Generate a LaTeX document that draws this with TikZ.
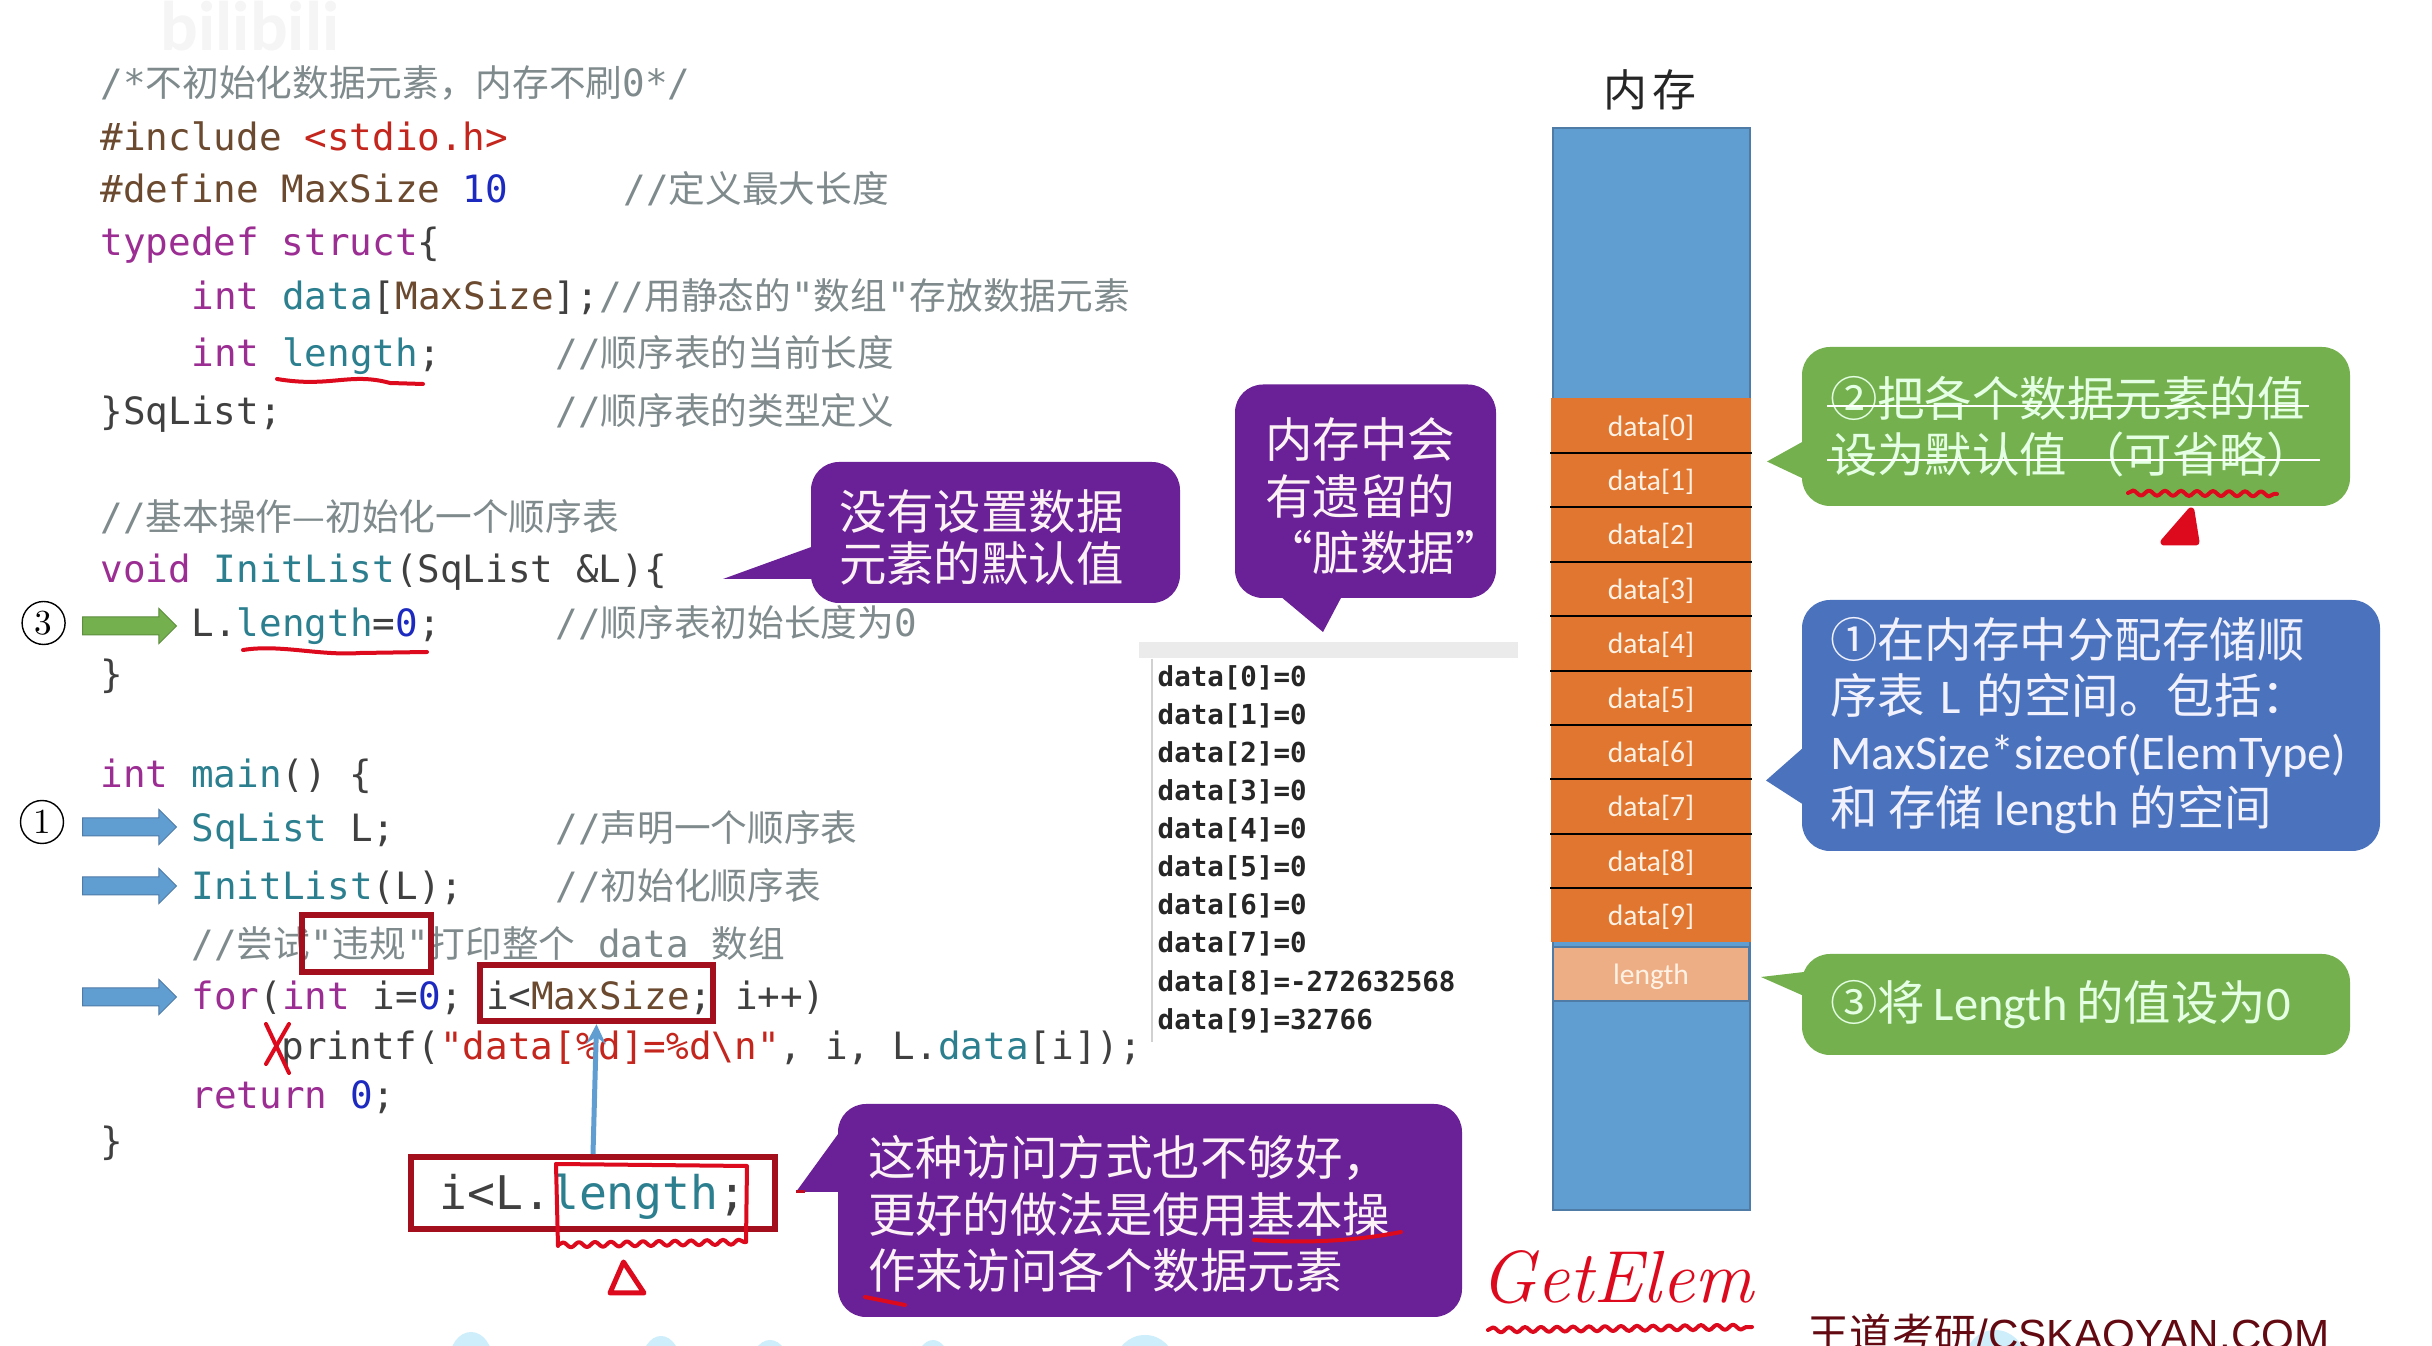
\documentclass[tikz,border=0pt]{standalone}
\usepackage{xcolor}
\usepackage{fontspec}
\usetikzlibrary{shapes.arrows,decorations.pathmorphing}
\setmonofont{DejaVu Sans Mono}
\setsansfont{Carlito}
\newfontfamily\zhfont{Noto Sans CJK SC}
\newfontfamily\zhcode[Scale=.975]{Noto Sans CJK SC}
\newfontfamily\lafont[Scale=1.02]{Carlito}
\newfontfamily\footfont{Liberation Sans}
\definecolor{kwcolor}{HTML}{9B2D93}
\definecolor{idcolor}{HTML}{2B7F8F}
\definecolor{macrocolor}{HTML}{6B4A30}
\definecolor{strcolor}{HTML}{C4261D}
\definecolor{numcolor}{HTML}{1C2AC0}
\definecolor{cmcolor}{HTML}{7F8A8C}
\definecolor{purplefill}{HTML}{6A2198}
\definecolor{greenfill}{HTML}{74B14E}
\definecolor{bluefill}{HTML}{4A72BD}
\definecolor{memfill}{HTML}{609ED2}
\definecolor{memline}{HTML}{4F7BA7}
\definecolor{cellfill}{HTML}{E0762F}
\definecolor{lenfill}{HTML}{EEAE85}
\definecolor{boxred}{HTML}{A30F1C}
\definecolor{penred}{HTML}{DD0A1E}
\definecolor{wavefill}{HTML}{CDEEFA}
\newcommand{\zh}[1]{{\zhcode #1}}
\newcommand{\la}[1]{{\lafont #1}}
\newcommand{\kw}[1]{\textcolor{kwcolor}{#1}}
\newcommand{\idn}[1]{\textcolor{idcolor}{#1}}
\newcommand{\mac}[1]{\textcolor{macrocolor}{#1}}
\newcommand{\strn}[1]{\textcolor{strcolor}{#1}}
\newcommand{\num}[1]{\textcolor{numcolor}{#1}}
\newcommand{\cm}[1]{\textcolor{cmcolor}{#1}}
\tikzset{
	codeline/.style={anchor=base west,inner sep=0pt,text=black!75,font=\ttfamily\fontsize{10.7}{12}\selectfont},
	outline/.style={anchor=base west,inner sep=0pt,text=black!85,font=\ttfamily\bfseries\fontsize{7.82}{9}\selectfont},
	bubble/.style={rounded corners=.28cm,inner xsep=.28cm,inner ysep=0pt,font=\zhfont\fontsize{13.5}{16}\selectfont},
	purplebubble/.style={bubble,fill=purplefill,text=white!95!purple},
	greenbubble/.style={bubble,fill=greenfill,text=white!90!green},
	bluebubble/.style={bubble,fill=bluefill,text=white!95!blue},
	memcell/.style={fill=cellfill,text=white!90!orange,minimum width=2cm,minimum height=.544cm,inner sep=0pt,text height=.26cm,text depth=.04cm,font=\sffamily\fontsize{8.4}{10}\selectfont},
	sepline/.style={black,line width=.02cm},
	blockarrow/.style={single arrow,draw=memline,line width=.01cm,minimum width=.34cm,minimum height=.94cm,single arrow head extend=.085cm,inner xsep=0pt,inner ysep=.085cm},
	stepcircle/.style={circle,draw,thin,minimum size=.43cm,inner sep=0pt,font=\rmfamily\fontsize{10}{12}\selectfont},
	redbox/.style={draw=boxred,line width=.06cm,inner sep=0pt},
	redpen/.style={penred,line width=.04cm,line cap=round,line join=round},
	wavypen/.style={redpen,decorate,decoration={snake,amplitude=.025cm,segment length=.16cm}}
}
\begin{document}
\begin{tikzpicture}[y=-1cm]
	\useasboundingbox(0,0)rectangle(24.32,13.46);
	\fill[white](0,0)rectangle(24.32,13.46);
	\node(mark) at (2.5,.26)[text=black!4,font=\sffamily\bfseries\fontsize{20}{24}\selectfont]{bilibili};
	\node(l1) at (1,.97)[codeline]{\cm{/*\zh{不初始化数据元素，内存不刷}0*/}};
	\node(l2) at (1,1.505)[codeline]{\mac{\#include} \strn{<stdio.h>}};
	\node(l3) at (1,2.03)[codeline]{\mac{\#define MaxSize} \num{10}};
	\node(c3) at (6.23,2.03)[codeline]{\cm{//\zh{定义最大长度}}};
	\node(l4) at (1,2.56)[codeline]{\kw{typedef struct}\{};
	\node(l5) at (1.91,3.1)[codeline]{\kw{int} \idn{data}[\mac{MaxSize}];\cm{//\zh{用静态的}"\zh{数组}"\zh{存放数据元素}}};
	\node(l6) at (1.91,3.67)[codeline]{\kw{int} \idn{length};};
	\node(c6) at (5.55,3.67)[codeline]{\cm{//\zh{顺序表的当前长度}}};
	\node(l7) at (1,4.25)[codeline]{\}SqList;};
	\node(c7) at (5.55,4.25)[codeline]{\cm{//\zh{顺序表的类型定义}}};
	\node(l8) at (1,5.31)[codeline]{\cm{//\zh{基本操作—初始化一个顺序表}}};
	\node(l9) at (1,5.83)[codeline]{\kw{void} \idn{InitList}(SqList \&L)\{};
	\node(l10) at (1.91,6.37)[codeline]{L.\idn{length}=\num{0};};
	\node(c10) at (5.55,6.37)[codeline]{\cm{//\zh{顺序表初始长度为}0}};
	\node(l11) at (1,6.88)[codeline]{\}};
	\node(l12) at (1,7.88)[codeline]{\kw{int} \idn{main}() \{};
	\node(l13) at (1.91,8.42)[codeline]{\idn{SqList} L;};
	\node(c13) at (5.55,8.42)[codeline]{\cm{//\zh{声明一个顺序表}}};
	\node(l14) at (1.91,9.0)[codeline]{\idn{InitList}(L);};
	\node(c14) at (5.55,9.0)[codeline]{\cm{//\zh{初始化顺序表}}};
	\node(l15) at (1.91,9.58)[codeline]{\cm{//\zh{尝试}"\zh{违规}"\zh{打印整个} data \zh{数组}}};
	\node(l16) at (1.91,10.1)[codeline]{\kw{for}(\kw{int} i=\num{0}; i<\mac{MaxSize}; i++)};
	\node(l17) at (2.81,10.6)[codeline]{printf(\strn{"data[\%d]=\%d\textbackslash n"}, i, L.\idn{data}[i]);};
	\node(l18) at (1.91,11.09)[codeline]{\kw{return} \num{0};};
	\node(l19) at (1,11.55)[codeline]{\}};
	\node(stepthree) at (.436,6.23)[stepcircle]{3};
	\node(stepone) at (.42,8.22)[stepcircle]{1};
	\node(arrowlen) at (1.25,6.26)[blockarrow,draw=greenfill!80!black,fill=greenfill]{};
	\node(arrowdecl) at (1.25,8.27)[blockarrow,fill=memfill]{};
	\node(arrowinit) at (1.25,8.86)[blockarrow,fill=memfill]{};
	\node(arrowfor) at (1.25,9.97)[blockarrow,fill=memfill]{};
	\node(illegalbox) at (3.665,9.435)[redbox,minimum width=1.29cm,minimum height=.57cm]{};
	\node(maxbox) at (5.965,9.93)[redbox,minimum width=2.33cm,minimum height=.565cm]{};
	\node(lenbox) at (5.93,11.93)[redbox,minimum width=3.64cm,minimum height=.72cm,text height=.44cm,text depth=.11cm,text=black!75,font=\ttfamily\fontsize{13.2}{15}\selectfont]{i<L.\idn{length};};
	\draw[-stealth,memfill,line width=.05cm](lenbox.north)--(maxbox.south);
	\node(tellA) at (9.955,5.325)[purplebubble,text width=3.13cm,minimum height=1.41cm,align=left]{\rule{0pt}{.5cm}没有设置数据\\[-1pt]元素的默认值};
	\coordinate(tipA) at (7.23,5.79);
	\fill[purplefill](tipA)--(8.14,5.46)--(8.14,5.79)--cycle;
	\node(tellB) at (13.655,4.9125)[purplebubble,text width=2cm,inner xsep=.305cm,minimum height=2.135cm,align=left]{\rule{0pt}{.5cm}内存中会\\有遗留的\\\mbox{“脏数据”}};
	\coordinate(tipB) at (13.23,6.32);
	\fill[purplefill](tipB)--(12.8,5.96)--(13.42,5.96)--cycle;
	\node(tellC) at (11.5,12.105)[purplebubble,text width=5.64cm,minimum height=2.13cm,align=left,inner xsep=.3cm]{\rule{0pt}{.47cm}这种访问方式也不够好，\\更好的做法是使用基本操\\作来访问各个数据元素};
	\coordinate(tipC) at (7.96,11.92);
	\fill[purplefill](tipC)--(8.41,11.3)--(8.41,11.92)--cycle;
	\draw[boxred!50!penred,line width=.03cm](tipC)--(8.05,11.92);
	\fill[wavefill](4.71,13.62)ellipse(.22 and .3);
	\fill[wavefill](6.61,13.66)ellipse(.2 and .3);
	\fill[wavefill](7.7,13.7)ellipse(.2 and .3);
	\fill[wavefill](9.33,13.7)ellipse(.18 and .3);
	\fill[wavefill](11.45,13.65)ellipse(.3 and .3);
	\fill[wavefill](19.95,13.6)ellipse(.3 and .3);
	\node(console) at (13.285,6.5)[fill=black!8,minimum width=3.79cm,minimum height=.16cm,inner sep=0pt]{};
	\coordinate(consoleend) at (11.52,10.42);
	\draw[black!18,line width=.02cm](console.south west-|consoleend)--(consoleend);
	\node(o0) at (11.57,6.865)[outline]{data[0]=0};
	\node(o1) at (11.57,7.247)[outline]{data[1]=0};
	\node(o2) at (11.57,7.628)[outline]{data[2]=0};
	\node(o3) at (11.57,8.009)[outline]{data[3]=0};
	\node(o4) at (11.57,8.39)[outline]{data[4]=0};
	\node(o5) at (11.57,8.77)[outline]{data[5]=0};
	\node(o6) at (11.57,9.15)[outline]{data[6]=0};
	\node(o7) at (11.57,9.53)[outline]{data[7]=0};
	\node(o8) at (11.57,9.914)[outline]{data[8]=-272632568};
	\node(o9) at (11.57,10.295)[outline]{data[9]=32766};
	\node(memtitle) at (16.5,.9)[inner sep=0pt,text=black!85,font=\zhfont\fontsize{12.5}{15}\selectfont]{内\hspace{.06cm}存};
	\node(mem) at (16.515,6.69)[fill=memfill,draw=memline,line width=.02cm,minimum width=1.97cm,minimum height=10.82cm,inner sep=0pt]{};
	\node(cell0) at (16.51,4.252)[memcell]{data[0]};
	\node(cell1) at (16.51,4.796)[memcell]{data[1]};
	\node(cell2) at (16.51,5.34)[memcell]{data[2]};
	\node(cell3) at (16.51,5.884)[memcell]{data[3]};
	\node(cell4) at (16.51,6.428)[memcell]{data[4]};
	\node(cell5) at (16.51,6.972)[memcell]{data[5]};
	\node(cell6) at (16.51,7.516)[memcell]{data[6]};
	\node(cell7) at (16.51,8.06)[memcell]{data[7]};
	\node(cell8) at (16.51,8.604)[memcell]{data[8]};
	\node(cell9) at (16.51,9.148)[memcell]{data[9]};
	\node(celllen) at (16.51,9.74)[memcell,fill=lenfill,draw=memline,line width=.02cm,minimum width=1.96cm,minimum height=.54cm]{length};
	\draw[sepline](cell0.south west)--(cell0.south east);
	\draw[sepline](cell1.south west)--(cell1.south east);
	\draw[sepline](cell2.south west)--(cell2.south east);
	\draw[sepline](cell3.south west)--(cell3.south east);
	\draw[sepline](cell4.south west)--(cell4.south east);
	\draw[sepline](cell5.south west)--(cell5.south east);
	\draw[sepline](cell6.south west)--(cell6.south east);
	\draw[sepline](cell7.south west)--(cell7.south east);
	\draw[sepline](cell8.south west)--(cell8.south east);
	\node(noteA) at (20.76,4.265)[greenbubble,text width=4.92cm,minimum height=1.59cm,align=left]{②把各个数据元素的值\\设为默认值\hspace{.1cm}（可省略）};
	\coordinate(tipD) at (17.67,4.615);
	\fill[greenfill](tipD)--(18.04,4.41)--(18.04,4.79)--cycle;
	\draw[white,line width=.025cm](18.27,4.06)--(23.09,4.06);
	\draw[white,line width=.025cm](18.27,4.6)--(23.2,4.6);
	\node(noteB) at (20.91,7.255)[bluebubble,text width=5.22cm,minimum height=2.51cm,align=left]{①在内存中分配存储顺\\序表 \la{L} 的空间。包括：\\\la{MaxSize*sizeof(ElemType)}\\和\hspace{.11cm}存储\hspace{.11cm}\la{length}\hspace{.11cm}的空间};
	\coordinate(tipE) at (17.66,7.805);
	\fill[bluefill](tipE)--(18.04,7.47)--(18.04,8.05)--cycle;
	\node(noteC) at (20.76,10.045)[greenbubble,text width=4.92cm,minimum height=1.01cm,align=left]{③将\hspace{.09cm}\la{Length}\hspace{.09cm}的值设为\la{0}};
	\coordinate(tipF) at (17.61,9.77);
	\fill[greenfill](tipF)--(18.04,9.72)--(18.04,9.96)--cycle;
	\draw[redpen](2.77,3.79)..controls(3.3,3.88)and(3.5,3.72)..(3.9,3.83)--(4.23,3.84);
	\draw[redpen](2.43,6.5)..controls(2.8,6.44)and(3.2,6.56)..(3.6,6.53)--(4.27,6.52);
	\draw[redpen](2.89,10.24)--(2.66,10.64);
	\draw[redpen](2.66,10.24)--(2.89,10.73);
	\draw[redpen](5.56,11.64)--(7.47,11.66)--(7.46,12.42);
	\draw[redpen](5.56,11.64)--(5.58,12.46);
	\draw[wavypen](5.58,12.45)--(7.46,12.42);
	\draw[redpen,line width=.05cm](6.235,12.62)--(6.1,12.93)--(6.44,12.93)--cycle;
	\draw[redpen](12.54,12.4)..controls(13,12.43)and(13.5,12.42)..(14.01,12.32);
	\draw[redpen](8.65,12.97)--(9.05,13.05);
	\node(getelem) at (14.8,13.03)[anchor=base west,inner sep=0pt,text=penred,font=\rmfamily\itshape\fontsize{21}{24}\selectfont]{GetElem};
	\draw[wavypen](14.88,13.3)--(17.52,13.27);
	\draw[wavypen](21.28,4.93)--(22.77,4.94);
	\draw[redpen,line width=.07cm,fill=penred](21.91,5.11)--(21.64,5.42)--(21.96,5.42)--cycle;
	\node(footer) at (18.07,13.5)[anchor=base west,inner sep=0pt,text=boxred!60!black,font=\footfont\fontsize{12}{14}\selectfont]{{\zhfont 王道考研}/CSKAOYAN.COM};
\end{tikzpicture}
\end{document}
